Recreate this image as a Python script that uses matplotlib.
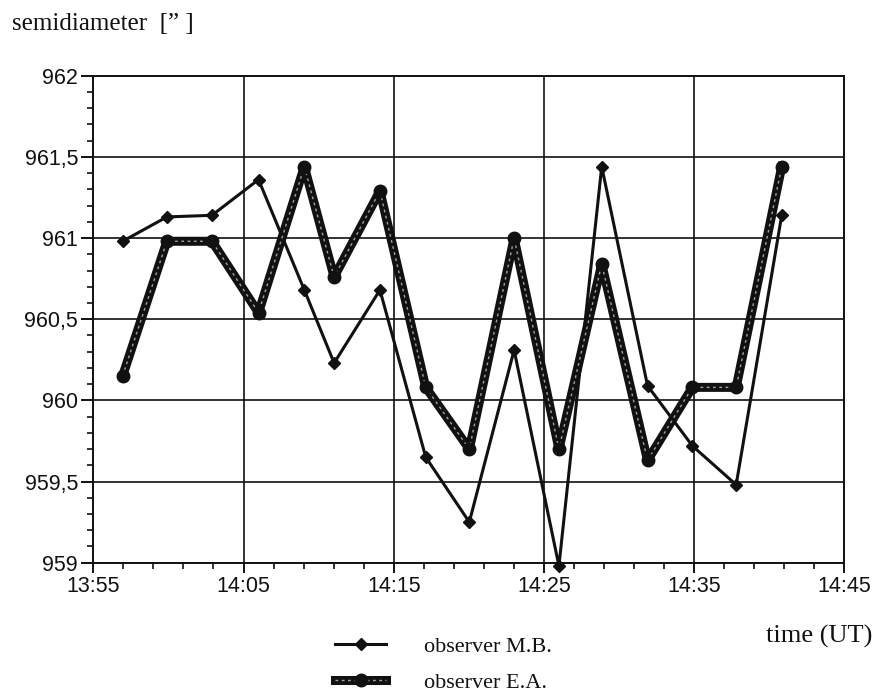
import matplotlib
matplotlib.use("Agg")
import matplotlib.pyplot as plt
from matplotlib.legend_handler import HandlerTuple
from matplotlib.ticker import MultipleLocator, FixedLocator, FixedFormatter

# ---- data ----
times = ["13:56:57", "13:59:54", "14:02:54", "14:06:00", "14:09:03", "14:11:02",
         "14:14:05", "14:17:08", "14:20:02", "14:23:01", "14:26:00", "14:28:51",
         "14:31:54", "14:34:53", "14:37:48", "14:40:50"]
mb_values = [960.98, 961.13, 961.14, 961.36, 960.68, 960.23, 960.68, 959.65,
             959.25, 960.31, 958.98, 961.44, 960.09, 959.72, 959.48, 961.14]
ea_values = [960.15, 960.98, 960.98, 960.54, 961.44, 960.76, 961.29, 960.08,
             959.70, 961.00, 959.70, 960.84, 959.63, 960.08, 960.08, 961.44]
x_tick_labels = ["13:55", "14:05", "14:15", "14:25", "14:35", "14:45"]
y_tick_labels = ["959", "959,5", "960", "960,5", "961", "961,5", "962"]
series_labels = ["observer M.B.", "observer E.A."]
y_label = "semidiameter  [\u201d ]"
x_label = "time (UT)"


def to_minutes(s, start="13:55:00"):
    h, m, sec = (int(v) for v in s.split(":"))
    h0, m0, s0 = (int(v) for v in start.split(":"))
    return (h * 60 + m + sec / 60.0) - (h0 * 60 + m0 + s0 / 60.0)


x = [to_minutes(t) for t in times]
x_ticks = [to_minutes(t + ":00") for t in x_tick_labels]
y_ticks = [float(v.replace(",", ".")) for v in y_tick_labels]

W, H = 875, 698
fig = plt.figure(figsize=(W / 100, H / 100), dpi=100)
ax = fig.add_axes([93.3 / W, 1 - 562.7 / H, (844.3 - 93.3) / W, (562.7 - 75.7) / H])

ink = "#111111"
sans = ["Liberation Sans", "DejaVu Sans"]
serif = ["Liberation Serif", "DejaVu Serif"]

# M.B. series: thin line with diamonds
mb_line, = ax.plot(x, mb_values, color=ink, lw=2.2, marker="D", ms=6.0,
                   mec=ink, mfc=ink, clip_on=False, zorder=3)
# E.A. series: thick dark line with light dashed core and round markers
ea_line, = ax.plot(x, ea_values, color=ink, lw=6.5, solid_joinstyle="round",
                   clip_on=False, zorder=4)
ea_core, = ax.plot(x, ea_values, color="#a0a0a0", lw=1.0, dashes=(2, 2.5),
                   clip_on=False, zorder=5)
ea_marks, = ax.plot(x, ea_values, ls="none", marker="o", ms=9, mec=ink,
                    mfc=ink, clip_on=False, zorder=6)

ax.set_xlim(x_ticks[0], x_ticks[-1])
ax.set_ylim(y_ticks[0], y_ticks[-1])

ax.xaxis.set_major_locator(FixedLocator(x_ticks))
ax.xaxis.set_major_formatter(FixedFormatter(x_tick_labels))
ax.xaxis.set_minor_locator(MultipleLocator(2))
ax.yaxis.set_major_locator(FixedLocator(y_ticks))
ax.yaxis.set_major_formatter(FixedFormatter(y_tick_labels))
ax.yaxis.set_minor_locator(MultipleLocator(0.1))

ax.grid(True, which="major", color=ink, lw=1.2)
ax.set_axisbelow(True)
for sp in ax.spines.values():
    sp.set_color(ink)
    sp.set_linewidth(1.4)

ax.tick_params(axis="both", which="both", direction="out", color=ink,
               top=False, right=False)
ax.tick_params(axis="x", which="major", length=7.5, width=1.4, pad=2)
ax.tick_params(axis="x", which="minor", length=4.5, width=1.2)
ax.tick_params(axis="y", which="major", length=9, width=1.4, pad=2)
ax.tick_params(axis="y", which="minor", length=4.5, width=1.2)
for lab in ax.get_xticklabels() + ax.get_yticklabels():
    lab.set_fontfamily(sans)
    lab.set_fontsize(15.5)
    lab.set_color(ink)

# titles
fig.text(12 / W, 1 - 30 / H, y_label, family=serif, fontsize=18,
         ha="left", va="baseline", color=ink)
fig.text(872 / W, 1 - 643 / H, x_label, family=serif, fontsize=19,
         ha="right", va="baseline", color=ink)

# legend
leg = fig.legend(handles=[mb_line, (ea_line, ea_core, ea_marks)], labels=series_labels,
                 handler_map={tuple: HandlerTuple(ndivide=1, pad=0)},
                 loc="upper left", bbox_to_anchor=(335 / W, 1 - 636 / H),
                 frameon=False, prop={"family": serif, "size": 16},
                 handlelength=2.3, handletextpad=1.7, labelspacing=0.7,
                 numpoints=1, borderaxespad=0, borderpad=0)
for t in leg.get_texts():
    t.set_color(ink)

fig.savefig("out.png", dpi=100)
